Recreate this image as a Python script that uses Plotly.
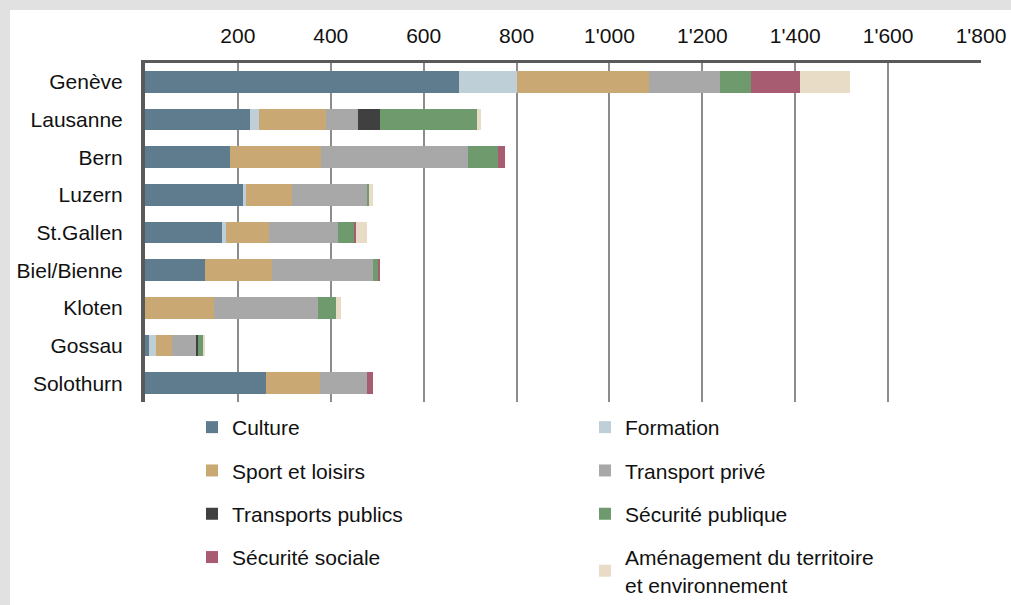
import plotly.graph_objects as go

cities = ["Genève", "Lausanne", "Bern", "Luzern", "St.Gallen", "Biel/Bienne", "Kloten", "Gossau", "Solothurn"]

culture =            [675, 225, 182, 212, 166, 130,   0,   8, 261]
formation =          [127,  21,   0,   5,   9,   0,   0,  16,   0]
sport_loisirs =      [284, 144, 198, 100,  93, 143, 149,  35, 116]
transport_prive =    [151,  68, 316, 162, 147, 217, 223,  52, 101]
transports_publics = [  0,  47,   0,   0,   0,   0,   0,   4,   0]
securite_publique =  [ 67, 210,  63,   3,  36,  11,  39,  11,   0]
securite_sociale =   [106,   0,  16,   0,   4,   5,   0,   0,  12]
amenagement =        [107,   8,   0,   8,  24,   0,  12,   4,   0]

tick_vals = [200, 400, 600, 800, 1000, 1200, 1400, 1600, 1800]
tick_text = ["200", "400", "600", "800", "1'000", "1'200", "1'400", "1'600", "1'800"]

series = [
    ("Culture", culture, "#5f7c8f", "legend"),
    ("Formation", formation, "#bfcfd8", "legend2"),
    ("Sport et loisirs", sport_loisirs, "#c9a873", "legend"),
    ("Transport privé", transport_prive, "#a8a8a8", "legend2"),
    ("Transports publics", transports_publics, "#404040", "legend"),
    ("Sécurité publique", securite_publique, "#6e9a6e", "legend2"),
    ("Sécurité sociale", securite_sociale, "#a85c72", "legend"),
    ("Aménagement du territoire<br>et environnement", amenagement, "#e8dcc6", "legend2"),
]

FONT = "Liberation Sans, Arial, sans-serif"
W, H = 1011, 605
L, R, T, B = 145, 30, 63, 203
pw, ph = W - L - R, H - T - B

def px(x):
    return (x - L) / pw

def py(y):
    return (H - B - y) / ph

fig = go.Figure()
for i, (name, vals, color, leg) in enumerate(series):
    fig.add_trace(go.Bar(
        y=cities, x=vals, name=name, orientation="h",
        marker=dict(color=color, line=dict(width=0)),
        legend=leg, legendgroup=f"g{i}",
    ))

fig.update_layout(
    width=W, height=H,
    margin=dict(l=L, r=R, t=T, b=B, autoexpand=False),
    barmode="stack",
    bargap=0.42,
    paper_bgcolor="#e1e1e1",
    plot_bgcolor="rgba(0,0,0,0)",
    font=dict(family=FONT, size=21, color="#111111"),
    showlegend=True,
    xaxis=dict(
        side="top", range=[0, 1800], tickvals=tick_vals, ticktext=tick_text,
        showgrid=True, gridcolor="#8c8c8c", gridwidth=2,
        showline=True, linecolor="#5a5a5a", linewidth=3,
        zeroline=False, ticks="", ticklabelstandoff=9, automargin=False,
        tickfont=dict(family=FONT, size=21, color="#111111"),
    ),
    yaxis=dict(
        categoryorder="array", categoryarray=cities, autorange="reversed",
        showline=True, linecolor="#5a5a5a", linewidth=4,
        showgrid=False, zeroline=False, ticks="", ticklabelstandoff=14,
        automargin=False,
        tickfont=dict(family=FONT, size=21, color="#111111"),
    ),
    legend=dict(
        x=px(192), y=py(407), xanchor="left", yanchor="top",
        orientation="v", tracegroupgap=13, bgcolor="rgba(0,0,0,0)",
        font=dict(family=FONT, size=21, color="#111111"),
    ),
    legend2=dict(
        x=px(585), y=py(407), xanchor="left", yanchor="top",
        orientation="v", tracegroupgap=13, bgcolor="rgba(0,0,0,0)",
        font=dict(family=FONT, size=21, color="#111111"),
    ),
    shapes=[dict(
        type="rect", xref="paper", yref="paper", layer="below",
        x0=px(10), x1=px(W + 5), y0=py(H + 5), y1=py(10),
        fillcolor="white", line=dict(width=0),
    )],
)

fig.write_html(
    "out.html",
    config={"displayModeBar": False},
    post_script="document.body.style.margin='0';document.body.style.overflow='hidden';",
)
